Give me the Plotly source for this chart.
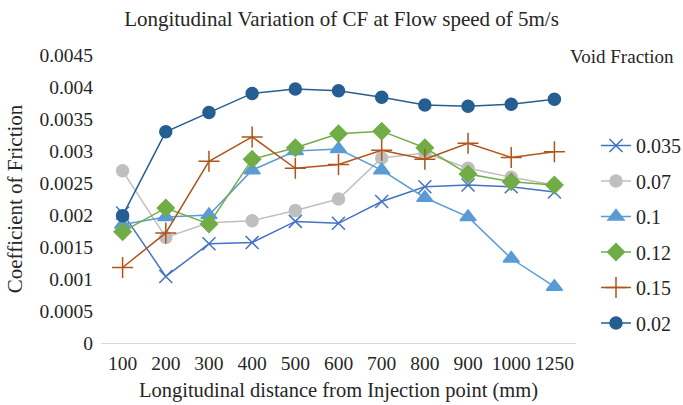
import plotly.graph_objects as go

categories = ["100", "200", "300", "400", "500", "600", "700", "800", "900", "1000", "1250"]
vf_0035 = [0.00203, 0.00104, 0.00155, 0.00157, 0.00190, 0.00187, 0.00221, 0.00244, 0.00247, 0.00244, 0.00236]
vf_007 = [0.00269, 0.00165, 0.00188, 0.00191, 0.00207, 0.00225, 0.00289, 0.00297, 0.00273, 0.00259, 0.00247]
vf_01 = [0.00185, 0.00197, 0.00200, 0.00270, 0.00300, 0.00303, 0.00270, 0.00227, 0.00197, 0.00132, 0.00088]
vf_012 = [0.00174, 0.00211, 0.00186, 0.00287, 0.00305, 0.00327, 0.00331, 0.00305, 0.00264, 0.00252, 0.00247]
vf_015 = [0.00118, 0.00172, 0.00284, 0.00322, 0.00273, 0.00279, 0.00301, 0.00287, 0.00312, 0.00290, 0.00299]
vf_002 = [0.00199, 0.00330, 0.00360, 0.00390, 0.00397, 0.00394, 0.00384, 0.00372, 0.00370, 0.00373, 0.00381]

series_names = ["0.035", "0.07", "0.1", "0.12", "0.15", "0.02"]
series_values = [vf_0035, vf_007, vf_01, vf_012, vf_015, vf_002]
colors = ["#4472C4", "#BFBFBF", "#5B9BD5", "#70AD47", "#B0541A", "#255E91"]
symbols = ["x-thin-open", "circle", "triangle-up", "diamond", "cross-thin-open", "circle"]
sizes = [13, 12, 14, 13, 15, 12]

ytickvals = [0, 0.0005, 0.001, 0.0015, 0.002, 0.0025, 0.003, 0.0035, 0.004, 0.0045]
yticktext = ["0", "0.0005", "0.001", "0.0015", "0.002", "0.0025", "0.003", "0.0035", "0.004", "0.0045"]

FONT = "Liberation Serif"

fig = go.Figure()
for i, (name, vals) in enumerate(zip(series_names, series_values)):
    fig.add_trace(go.Scatter(
        x=categories, y=vals, name=name, mode="lines+markers",
        legendgroup=name,
        line=dict(color=colors[i], width=1.5),
        marker=dict(symbol=symbols[i], size=sizes[i], color=colors[i],
                    line=dict(color=colors[i], width=1.5)),
    ))

pw = 683 - 101 - 107
ph = 405 - 55 - 62

fig.update_layout(
    width=683, height=405,
    margin=dict(l=101, r=107, t=55, b=62, autoexpand=False),
    paper_bgcolor="white", plot_bgcolor="white",
    font=dict(family=FONT, color="#262626", size=19),
    title=dict(text="Longitudinal Variation of CF at Flow speed of 5m/s",
               x=0.5, xanchor="center", y=0.955, yanchor="middle",
               font=dict(family=FONT, size=21, color="#262626")),
    xaxis=dict(type="category", range=[-0.5, 10.5], showgrid=False,
               showline=True, linecolor="#D9D9D9", linewidth=1, ticks="",
               tickfont=dict(family=FONT, size=19.5), ticklabelstandoff=3,
               title=dict(text="Longitudinal distance from Injection point (mm)",
                          font=dict(family=FONT, size=20.5), standoff=9)),
    yaxis=dict(range=[0, 0.0045], tickvals=ytickvals, ticktext=yticktext,
               showgrid=False, zeroline=False, showline=False, ticks="",
               tickfont=dict(family=FONT, size=19.5), ticklabelstandoff=7,
               title=dict(text="Coefficient of Friction", font=dict(family=FONT, size=21), standoff=11)),
    legend=dict(x=(596 - 101) / pw, y=(343 - 126) / ph, xanchor="left", yanchor="top",
                font=dict(family=FONT, size=20), tracegroupgap=6.5,
                bgcolor="rgba(0,0,0,0)"),
    annotations=[dict(text="Void Fraction", x=(676 - 101) / pw, y=(343 - 57) / ph,
                      xref="paper", yref="paper", xanchor="right", yanchor="middle",
                      showarrow=False, font=dict(family=FONT, size=19, color="#262626"))],
)

fig.write_html("out.html")
